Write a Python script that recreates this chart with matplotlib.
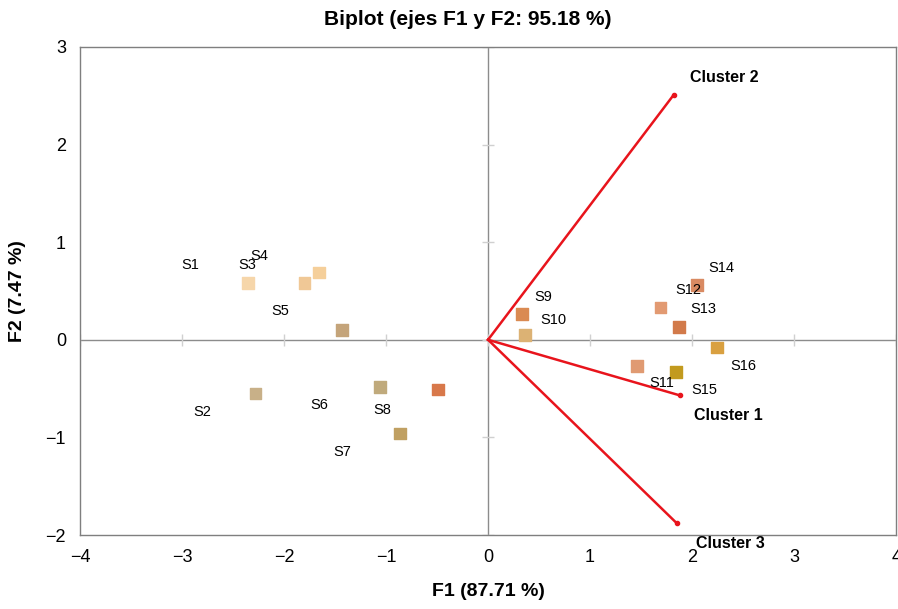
import matplotlib.pyplot as plt

plt.rcParams["font.family"] = ["Liberation Sans", "DejaVu Sans"]

# observations (F1, F2)
obs_x = [-2.35, -1.80, -1.66, -1.43, -2.28, -1.06, -0.49, -0.86,
         0.33, 0.36, 1.69, 2.05, 1.87, 2.24, 1.46, 1.84]
obs_y = [0.58, 0.58, 0.69, 0.10, -0.55, -0.48, -0.51, -0.96,
         0.26, 0.05, 0.33, 0.56, 0.13, -0.08, -0.27, -0.33]
obs_colors = ["#f6d6aa", "#f0c896", "#f5cf9a", "#c4a47a", "#c8b088", "#c0aa7c",
              "#d8784a", "#c0a062", "#da8a52", "#dcb274", "#e29a72", "#d98a62",
              "#d27a4a", "#d9a040", "#e09a72", "#c29a1e"]

# sample labels
labels = ["S1", "S3", "S4", "S5", "S2", "S6", "S8", "S7",
          "S9", "S10", "S12", "S14", "S13", "S16", "S11", "S15"]
label_x = [-2.92, -2.36, -2.24, -2.04, -2.80, -1.65, -1.04, -1.43,
           0.54, 0.64, 1.96, 2.29, 2.11, 2.50, 1.70, 2.12]
label_y = [0.77, 0.77, 0.86, 0.29, -0.74, -0.67, -0.72, -1.15,
           0.44, 0.20, 0.51, 0.74, 0.31, -0.27, -0.44, -0.51]

# variable vectors
clusters = ["Cluster 2", "Cluster 1", "Cluster 3"]
vec_x = [1.82, 1.88, 1.85]
vec_y = [2.51, -0.57, -1.88]
clabel_x = [2.32, 2.36, 2.37]
clabel_y = [2.69, -0.78, -2.09]

xticks = [-4, -3, -2, -1, 0, 1, 2, 3, 4]
yticks = [-2, -1, 0, 1, 2, 3]

fig = plt.figure(figsize=(8.98, 6.09), dpi=100)
ax = fig.add_axes([0.089, 0.1215, 0.909, 0.8015])

ax.axhline(0, color="#8c8c8c", lw=1, zorder=1)
ax.axvline(0, color="#8c8c8c", lw=1, zorder=1)
# small tick marks on the zero lines
ax.plot(xticks, [0] * len(xticks), ls="none", marker="|", ms=8, color="#d0d0d0", zorder=1)
ax.plot([0] * len(yticks), yticks, ls="none", marker="_", ms=8, color="#d0d0d0", zorder=1)

ax.scatter(obs_x, obs_y, s=72, marker="s", c=obs_colors, zorder=3)
for t, x, y in zip(labels, label_x, label_y):
    ax.text(x, y, t, fontsize=10.5, ha="center", va="center", zorder=4)

for t, x, y, lx, ly in zip(clusters, vec_x, vec_y, clabel_x, clabel_y):
    ax.plot([0, x], [0, y], color="#e8141c", lw=1.8, zorder=2)
    ax.plot(x, y, "o", color="#e8141c", ms=3, zorder=2)
    ax.text(lx, ly, t, fontsize=11.5, fontweight="bold", ha="center", va="center",
            clip_on=False, zorder=4)

ax.set_xlim(-4, 4)
ax.set_ylim(-2, 3)
ax.set_xticks(xticks)
ax.set_yticks(yticks)
ax.set_xticklabels(["\u22124", "\u22123", "\u22122", "\u22121", "0", "1", "2", "3", "4"])
ax.set_yticklabels(["\u22122", "\u22121", "0", "1", "2", "3"])
ax.tick_params(length=0, labelsize=13, pad=10)
for s in ax.spines.values():
    s.set_color("#7f7f7f")
    s.set_linewidth(1)

ax.set_xlabel("F1 (87.71 %)", fontsize=14, fontweight="bold", labelpad=12)
ax.set_ylabel("F2 (7.47 %)", fontsize=14, fontweight="bold", labelpad=14)
ax.set_title("Biplot (ejes F1 y F2: 95.18 %)", fontsize=15, fontweight="bold", pad=16, x=0.475)

plt.savefig("out.png", dpi=100)
